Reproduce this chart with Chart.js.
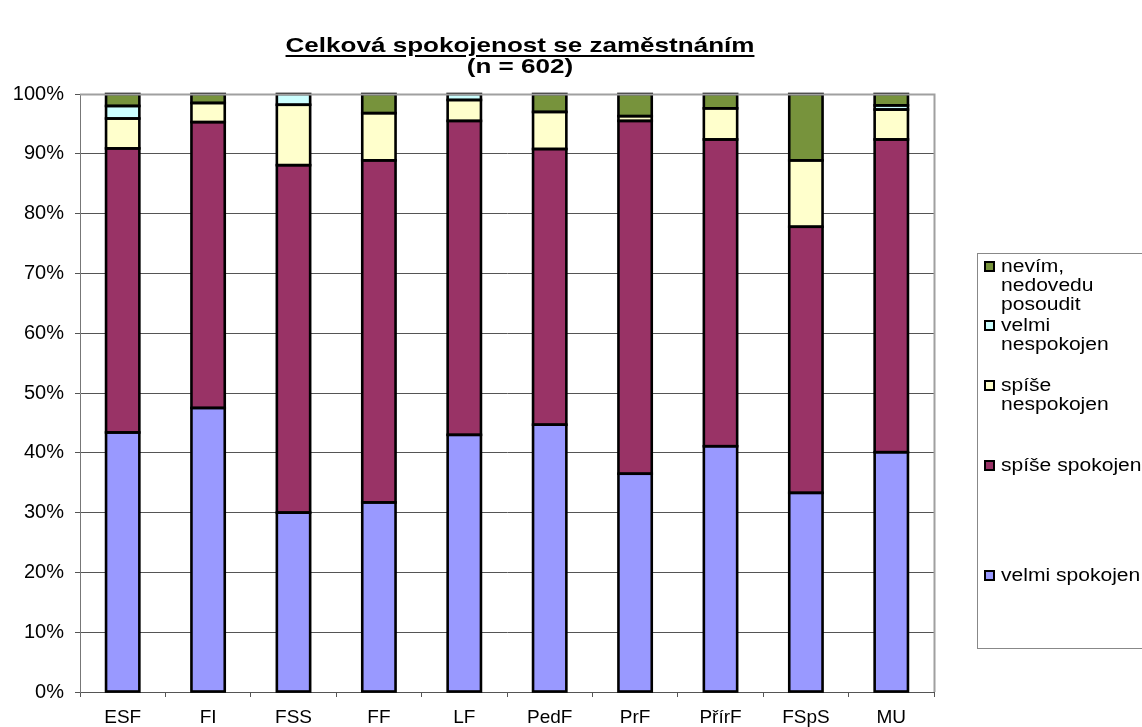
<!DOCTYPE html>
<html lang="cs">
<head>
  <meta charset="UTF-8" />
  <title>Celková spokojenost se zaměstnáním</title>
  <style>
    body{margin:0;background:#fff;font-family:"Liberation Sans",Arial,sans-serif}
    #wrap{position:relative;width:1142px;height:727px;overflow:hidden}
    #title{position:absolute;left:120px;width:800px;top:34px;text-align:center;font-weight:bold;font-size:21px;line-height:21px;color:#000;transform:scaleX(1.24);transform-origin:400px 0}
    #title u{text-decoration-thickness:2px;text-underline-offset:3px}
    #legend{position:absolute;left:977px;top:253px;width:180px;height:396px;border:1px solid #888;box-sizing:border-box;font-size:18px;line-height:19px}
    .item{position:absolute;left:6px;padding-left:17px}
    .item span{display:inline-block;transform:scaleX(1.17);transform-origin:0 0}
    .item i{position:absolute;left:0;top:4px;width:7px;height:7px;border:2px solid #000}
    canvas{position:absolute;left:0;top:0}
  </style>
  <script src="https://cdn.jsdelivr.net/npm/chart.js"></script>
</head>
<body>
<div id="wrap">
  <canvas id="chart" width="1142" height="727"></canvas>
  <div id="title"><u>Celková spokojenost se zaměstnáním</u><br>(n = 602)</div>
  <div id="legend"></div>
</div>
<script>
const categories=['ESF','FI','FSS','FF','LF','PedF','PrF','PřírF','FSpS','MU'];
const velmiSpokojen=[43.4,47.5,30.0,31.7,43.0,44.7,36.5,41.1,33.3,40.1];
const spiseSpokojen=[47.5,47.8,58.1,57.2,52.5,46.1,59.0,51.3,44.5,52.3];
const spiseNespokojen=[5.0,3.2,10.1,7.9,3.5,6.2,0.8,5.2,11.1,5.0];
const velmiNespokojen=[2.1,0,1.8,0,1.0,0,0,0,0,0.7];
const nevim=[2.0,1.5,0,3.2,0,3.0,3.7,2.4,11.1,1.9];
const yTicks=[0,10,20,30,40,50,60,70,80,90,100];

const series=[
  {label:'velmi spokojen',data:velmiSpokojen,color:'#9999FF',lines:['velmi spokojen'],top:312},
  {label:'spíše spokojen',data:spiseSpokojen,color:'#993366',lines:['spíše spokojen'],top:202},
  {label:'spíše nespokojen',data:spiseNespokojen,color:'#FFFFCC',lines:['spíše','nespokojen'],top:122},
  {label:'velmi nespokojen',data:velmiNespokojen,color:'#CCFFFF',lines:['velmi','nespokojen'],top:62},
  {label:'nevím, nedovedu posoudit',data:nevim,color:'#77933C',lines:['nevím,','nedovedu','posoudit'],top:3}
];

// legend, top item = last series
const lg=document.getElementById('legend');
series.slice().reverse().forEach(s=>{
  const d=document.createElement('div');d.className='item';d.style.top=s.top+'px';
  d.innerHTML=`<i style="background:${s.color}"></i><span>`+s.lines.join('<br>')+'</span>';
  lg.appendChild(d);
});

// gray frame top/right of plot area
const frame={id:'frame',afterDraw(c){
  const a=c.chartArea,x=c.ctx;x.save();x.strokeStyle='#a0a0a0';x.lineWidth=2;
  x.beginPath();x.moveTo(a.left,a.top+0.5);x.lineTo(a.right+0.5,a.top+0.5);x.lineTo(a.right+0.5,a.bottom);x.stroke();x.restore();
}};
// heavy black outline around every segment (as in the Excel original)
const outline={id:'outline',afterDatasetsDraw(c){
  const x=c.ctx;x.save();x.strokeStyle='#000';x.lineWidth=2.6;
  c.data.datasets.forEach((d,i)=>{
    c.getDatasetMeta(i).data.forEach((b,j)=>{
      if(!d.data[j]) return;
      const top=Math.min(b.y,b.base),h=Math.abs(b.base-b.y);
      x.strokeRect(b.x-b.width/2,top,b.width,h);
    });
  });
  x.restore();
}};

const font={family:'"Liberation Sans", Arial, sans-serif',size:19};
new Chart(document.getElementById('chart'),{
  type:'bar',
  data:{labels:categories,datasets:series.map(s=>({label:s.label,data:s.data,backgroundColor:s.color,borderWidth:0,inflateAmount:0,barPercentage:0.39,categoryPercentage:1}))},
  options:{
    responsive:false,animation:false,
    layout:{padding:{left:0,top:94,right:208,bottom:0}},
    plugins:{legend:{display:false},title:{display:false},tooltip:{enabled:false}},
    scales:{
      x:{stacked:true,afterFit:s=>{s.height=35},
         grid:{offset:true,drawOnChartArea:false,drawTicks:true,tickLength:5,color:'#555'},
         border:{color:'#555',width:1},
         ticks:{color:'#000',font:font,padding:9,maxRotation:0}},
      y:{stacked:true,min:0,max:100,afterFit:s=>{s.width=80},
         afterBuildTicks:s=>{s.ticks=yTicks.map(v=>({value:v}))},
         grid:{color:'#555',lineWidth:1,tickLength:5},
         border:{color:'#777',width:1},
         ticks:{color:'#000',font:{family:font.family,size:20},padding:11,callback:v=>v+'%'}}
    }
  },
  plugins:[frame,outline]
});
</script>
</body>
</html>
